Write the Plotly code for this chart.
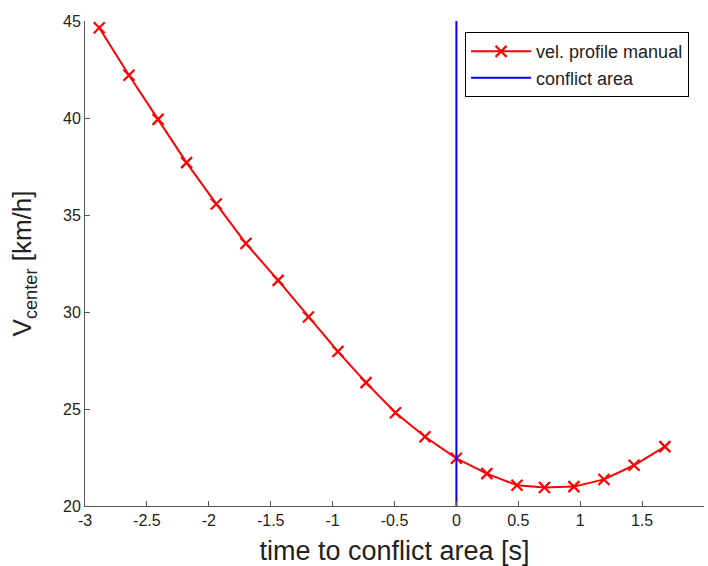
import plotly.graph_objects as go

# data
t = [-2.885, -2.645, -2.41, -2.18, -1.94, -1.70, -1.44, -1.195, -0.957, -0.730,
     -0.492, -0.254, 0.0, 0.246, 0.489, 0.711, 0.949, 1.192, 1.435, 1.684]
v = [44.65, 42.20, 39.93, 37.70, 35.57, 33.53, 31.63, 29.74, 27.96, 26.36,
     24.81, 23.57, 22.46, 21.67, 21.07, 20.95, 21.00, 21.37, 22.10, 23.06]
conflict_t = [0, 0]
conflict_v = [20, 45]
x_ticks = [-3, -2.5, -2, -1.5, -1, -0.5, 0, 0.5, 1, 1.5, 2]
y_ticks = [20, 25, 30, 35, 40, 45]

FONT = "Liberation Sans, Arial, sans-serif"

fig = go.Figure()
fig.add_trace(go.Scatter(
    x=t, y=v, mode="lines+markers", name="vel. profile manual",
    line=dict(color="#ff0000", width=2),
    marker=dict(symbol="x-thin", size=11, line=dict(color="#ff0000", width=2.2)),
))
fig.add_trace(go.Scatter(
    x=conflict_t, y=conflict_v, mode="lines", name="conflict area",
    line=dict(color="#0000ff", width=2),
))

axis_common = dict(
    showgrid=False, zeroline=False, showline=True, linecolor="#555555", linewidth=1,
    ticks="inside", ticklen=5, tickcolor="#555555", mirror=False, automargin=False,
    tickfont=dict(family=FONT, size=16, color="#222222"),
)

fig.update_layout(
    width=708, height=566,
    margin=dict(l=85, r=4, t=21, b=60),
    paper_bgcolor="white", plot_bgcolor="white",
    font=dict(family=FONT, color="#222222"),
    xaxis=dict(range=[-3, 2], tickvals=x_ticks,
               ticktext=[("%g" % x) for x in x_ticks],
               title=dict(text="time to conflict area [s]",
                          font=dict(family=FONT, size=27, color="#222222"), standoff=18),
               **axis_common),
    yaxis=dict(range=[20, 45], tickvals=y_ticks,
               title=dict(text="V<sub>center</sub> [km/h]",
                          font=dict(family=FONT, size=26, color="#222222"), standoff=23),
               **axis_common),
    legend=dict(x=0.614, y=0.977, xanchor="left", yanchor="top",
                bordercolor="black", borderwidth=1, bgcolor="white",
                font=dict(family=FONT, size=18, color="#222222"),
                itemwidth=60, tracegroupgap=0),
    showlegend=True,
)

fig.write_html("out.html",
               config={"displayModeBar": False},
               post_script="document.body.style.margin='0';document.body.style.overflow='hidden';")
